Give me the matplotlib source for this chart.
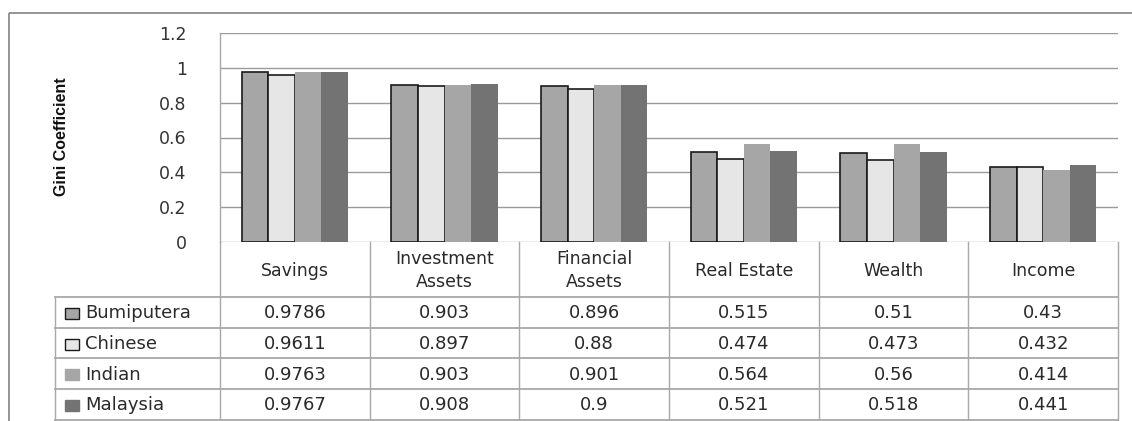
import numpy as np
import matplotlib
matplotlib.use("Agg")
import matplotlib.pyplot as plt
import matplotlib.transforms as mtransforms

categories = ["Savings", "Investment\nAssets", "Financial\nAssets", "Real Estate", "Wealth", "Income"]
series = ["Bumiputera", "Chinese", "Indian", "Malaysia"]
bumiputera = [0.9786, 0.903, 0.896, 0.515, 0.51, 0.43]
chinese = [0.9611, 0.897, 0.88, 0.474, 0.473, 0.432]
indian = [0.9763, 0.903, 0.901, 0.564, 0.56, 0.414]
malaysia = [0.9767, 0.908, 0.9, 0.521, 0.518, 0.441]
labels = [["0.9786", "0.903", "0.896", "0.515", "0.51", "0.43"],
          ["0.9611", "0.897", "0.88", "0.474", "0.473", "0.432"],
          ["0.9763", "0.903", "0.901", "0.564", "0.56", "0.414"],
          ["0.9767", "0.908", "0.9", "0.521", "0.518", "0.441"]]
yticks = [0, 0.2, 0.4, 0.6, 0.8, 1, 1.2]
ytick_labels = ["0", "0.2", "0.4", "0.6", "0.8", "1", "1.2"]

values = [bumiputera, chinese, indian, malaysia]
colors = ["#a6a6a6", "#e6e6e6", "#a6a6a6", "#737373"]
edges = ["#1a1a1a", "#1a1a1a", "none", "none"]
grid_c = "#9a9a9a"
tab_c = "#a8a8a8"
txt_c = "#2a2a2a"

W, H = 1132, 421
fig = plt.figure(figsize=(W / 100, H / 100), dpi=100)
fig.patch.set_facecolor("white")

# overlay in pixel coordinates for frame and table
ov = fig.add_axes([0, 0, 1, 1])
ov.set_xlim(0, W)
ov.set_ylim(H, 0)
ov.axis("off")

x0, x1, ytop, ybase = 220, 1118, 33, 242
ax = fig.add_axes([x0 / W, (H - ybase) / H, (x1 - x0) / W, (ybase - ytop) / H])
ax.set_facecolor("none")

x = np.arange(len(categories))
bw = 0.178
for k in range(4):
    ax.bar(x + (k - 1.5) * bw, values[k], bw, color=colors[k],
           edgecolor=edges[k], linewidth=1.2, zorder=3)

ax.set_xlim(-0.5, len(categories) - 0.5)
ax.set_ylim(0, 1.2)
ax.set_yticks(yticks)
ax.set_yticklabels(ytick_labels, fontsize=12.5, color="#333333")
ax.set_xticks([])
ax.tick_params(axis="y", length=0, pad=24)
ax.yaxis.grid(True, color=grid_c, linewidth=1.0)
ax.set_axisbelow(True)
for s in ["top", "right", "bottom"]:
    ax.spines[s].set_visible(False)
ax.spines["left"].set_color(tab_c)
ax.spines["left"].set_linewidth(1.0)

ov.text(61, 137, "Gini Coefficient", rotation=90, ha="center", va="center",
        fontsize=11.5, fontweight="bold", color="#111111",
        family=["Liberation Sans", "DejaVu Sans"])

# outer frame
ov.plot([9, W], [13, 13], color="#8c8c8c", lw=1.3, solid_capstyle="butt")
ov.plot([9, 9], [13, H], color="#8c8c8c", lw=1.3, solid_capstyle="butt")

# data table
tr = mtransforms.blended_transform_factory(ax.transData, ov.transData)
row_y = [297, 328, 358, 389, 420]
hdr_top = 242
bounds = np.arange(len(categories) + 1) - 0.5
for b in bounds:
    ov.plot([b, b], [hdr_top, row_y[-1]], color=tab_c, lw=1.0, transform=tr)
ov.plot([55, 55], [row_y[0], row_y[-1]], color=tab_c, lw=1.0)
for yy in row_y:
    ov.plot([55, x1], [yy, yy], color=tab_c, lw=1.3)

for i, c in enumerate(categories):
    ov.text(x[i], (hdr_top + row_y[0]) / 2 + 1, c, transform=tr, ha="center",
            va="center", fontsize=12.5, color=txt_c, linespacing=1.3)
for r in range(4):
    yc = (row_y[r] + row_y[r + 1]) / 2 + 1
    for i in range(len(categories)):
        ov.text(x[i], yc, labels[r][i], transform=tr, ha="center", va="center",
                fontsize=13, color=txt_c)
    ov.add_patch(plt.Rectangle((65, yc - 5.5), 14, 11, facecolor=colors[r],
                               edgecolor=edges[r] if edges[r] != "none" else colors[r],
                               lw=1.0))
    ov.text(85, yc, series[r], ha="left", va="center", fontsize=13, color=txt_c)

fig.savefig("out.png", dpi=100, facecolor="white")
